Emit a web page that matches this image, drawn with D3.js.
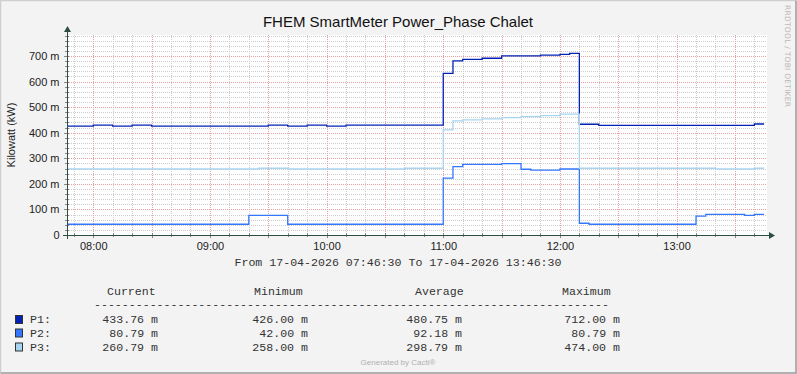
<!DOCTYPE html>
<html>
<head>
<meta charset="utf-8">
<script src="https://cdn.jsdelivr.net/npm/d3@7"></script>
<style>
  body { margin: 0; background: #f3f3f3; }
  svg { display: block; }
  .tick text { font-family: "Liberation Sans", Arial, sans-serif; font-size: 11px; fill: #222; }
  .mono { font-family: "Liberation Mono", "DejaVu Sans Mono", monospace; font-size: 11.6px; fill: #333; }
</style>
</head>
<body>
<div id="chart"></div>
<script>
// ---- data (values in milli-kW, step changes at these times) ----
const p1Times  = ["07:46:30","08:00","08:10","08:20","08:30","09:30","09:40","09:50","10:00","10:10","11:00","11:05","11:10","11:20","11:30","11:50","12:00","12:05","12:10","12:20","13:40","13:45"];
const p1Values = [426, 430, 426, 430, 426, 430, 426, 430, 426, 430, 632, 681, 687, 691, 700, 703, 706, 710, 433, 429, 434, 434];

const p2Times  = ["07:46:30","09:20","09:40","11:00","11:05","11:10","11:30","11:40","11:45","12:00","12:10","12:15","13:10","13:15","13:35","13:40","13:45"];
const p2Values = [42, 77, 42, 222, 267, 276, 279, 257, 254, 258, 46, 42, 74, 81, 77, 81, 81];

const p3Times  = ["07:46:30","09:25","09:40","10:40","11:00","11:05","11:10","11:20","11:30","11:40","11:50","12:00","12:10","13:20","13:40","13:45"];
const p3Values = [258, 261, 258, 261, 411, 446, 450, 454, 459, 463, 467, 473, 261, 258, 261, 261];

const seriesNames  = ["P1:", "P2:", "P3:"];
const seriesColors = ["#0022b4", "#3377ff", "#a8d4f0"];
const legendHeads  = ["Current", "Minimum", "Average", "Maximum"];
const legendRows = [
    ["433.76 m", "426.00 m", "480.75 m", "712.00 m"],
    ["80.79 m",  "42.00 m",  "92.18 m",  "80.79 m"],
    ["260.79 m", "258.00 m", "298.79 m", "474.00 m"]
];
const yTicks = [0, 100, 200, 300, 400, 500, 600, 700];
const startTime = "07:46:30", endTime = "13:46:30";

// ---- helpers ----
function toDate(s) {
    const p = s.split(":").map(Number);
    return new Date(2026, 3, 17, p[0], p[1], p[2] || 0);
}

const W = 797, H = 374;
const margin = {left: 67, top: 35};
const plotW = 700, plotH = 200;

const svg = d3.select("#chart").append("svg")
    .attr("width", W)
    .attr("height", H);

// frame
svg.append("rect").attr("x", 0).attr("y", 0).attr("width", W).attr("height", H).attr("fill", "#f3f3f3");
svg.append("path").attr("d", `M0.5,${H - 1} V0.5 H${W - 1}`).attr("fill", "none").attr("stroke", "#cfcfcf").attr("stroke-width", 1.5);
svg.append("path").attr("d", `M0.5,${H - 1} H${W - 1} V0.5`).attr("fill", "none").attr("stroke", "#9a9a9a").attr("stroke-width", 1.5);

// scales
const x = d3.scaleTime()
    .domain([toDate(startTime), toDate(endTime)])
    .range([margin.left, margin.left + plotW]);
const y = d3.scaleLinear()
    .domain([0, 782])
    .range([margin.top + plotH, margin.top]);

// plot background
svg.append("rect")
    .attr("x", margin.left).attr("y", margin.top)
    .attr("width", plotW).attr("height", plotH)
    .attr("fill", "#ffffff");

// grid
const grid = svg.append("g").attr("class", "grid");
const minorX = x.ticks(d3.timeMinute.every(10));
const majorX = x.ticks(d3.timeMinute.every(30));
const minorY = d3.range(20, 782, 20).filter(v => v % 100 !== 0);

grid.selectAll(".minor-x").data(minorX.filter(t => t.getMinutes() % 30 !== 0)).join("line")
    .attr("x1", d => Math.round(x(d)) + 0.5).attr("x2", d => Math.round(x(d)) + 0.5)
    .attr("y1", margin.top).attr("y2", margin.top + plotH)
    .attr("stroke", "#cccccc").attr("stroke-dasharray", "1,1");
grid.selectAll(".minor-y").data(minorY).join("line")
    .attr("x1", margin.left).attr("x2", margin.left + plotW)
    .attr("y1", d => Math.round(y(d)) + 0.5).attr("y2", d => Math.round(y(d)) + 0.5)
    .attr("stroke", "#cccccc").attr("stroke-dasharray", "1,1");
grid.selectAll(".major-x").data(majorX).join("line")
    .attr("x1", d => Math.round(x(d)) + 0.5).attr("x2", d => Math.round(x(d)) + 0.5)
    .attr("y1", margin.top).attr("y2", margin.top + plotH)
    .attr("stroke", "#e8a0a0").attr("stroke-dasharray", "1,1");
grid.selectAll(".major-y").data(yTicks.slice(1)).join("line")
    .attr("x1", margin.left).attr("x2", margin.left + plotW)
    .attr("y1", d => Math.round(y(d)) + 0.5).attr("y2", d => Math.round(y(d)) + 0.5)
    .attr("stroke", "#e8a0a0").attr("stroke-dasharray", "1,1");

// lines
const line = d3.line()
    .curve(d3.curveStepAfter)
    .x(d => x(d.t))
    .y(d => y(d.v));

const series = [
    d3.zip(p1Times, p1Values),
    d3.zip(p2Times, p2Values),
    d3.zip(p3Times, p3Values)
].map(s => s.map(([t, v]) => ({t: toDate(t), v: v})));

svg.append("g").selectAll("path").data(series).join("path")
    .attr("d", line)
    .attr("fill", "none")
    .attr("stroke", (d, i) => seriesColors[i])
    .attr("stroke-width", 1.3);

// axes
const axisColor = "#2c4d43";
const xAxis = svg.append("g")
    .attr("transform", `translate(0,${margin.top + plotH})`)
    .call(d3.axisBottom(x).ticks(d3.timeHour.every(1)).tickFormat(d3.timeFormat("%H:%M")).tickSize(0).tickPadding(7));
xAxis.select(".domain").remove();

const yAxis = svg.append("g")
    .attr("transform", `translate(${margin.left},0)`)
    .call(d3.axisLeft(y).tickValues(yTicks).tickFormat(d => d === 0 ? "0" : d + " m").tickSize(0).tickPadding(7.5));
yAxis.select(".domain").remove();

// tick marks
svg.append("g").selectAll("line").data(minorX).join("line")
    .attr("x1", d => Math.round(x(d)) + 0.5).attr("x2", d => Math.round(x(d)) + 0.5)
    .attr("y1", margin.top + plotH - 2)
    .attr("y2", d => margin.top + plotH + (d.getMinutes() % 30 === 0 ? 3 : 2))
    .attr("stroke", "#888");
svg.append("g").selectAll("line").data(yTicks.concat(minorY)).join("line")
    .attr("x1", d => margin.left - (d % 100 === 0 ? 3 : 2)).attr("x2", margin.left + 2)
    .attr("y1", d => Math.round(y(d)) + 0.5).attr("y2", d => Math.round(y(d)) + 0.5)
    .attr("stroke", "#888");

svg.append("line")
    .attr("x1", margin.left - 4).attr("x2", margin.left + plotW + 2)
    .attr("y1", margin.top + plotH + 0.5).attr("y2", margin.top + plotH + 0.5)
    .attr("stroke", axisColor);
svg.append("line")
    .attr("x1", margin.left + 0.5).attr("x2", margin.left + 0.5)
    .attr("y1", margin.top + plotH + 4).attr("y2", margin.top - 3)
    .attr("stroke", axisColor);
svg.append("path")
    .attr("d", `M${margin.left + plotW + 2},${margin.top + plotH - 3} L${margin.left + plotW + 8},${margin.top + plotH + 0.5} L${margin.left + plotW + 2},${margin.top + plotH + 4} Z`)
    .attr("fill", axisColor);
svg.append("path")
    .attr("d", `M${margin.left - 3},${margin.top - 3} L${margin.left + 0.5},${margin.top - 9} L${margin.left + 4},${margin.top - 3} Z`)
    .attr("fill", axisColor);

// title + labels
svg.append("text")
    .attr("x", 398).attr("y", 27)
    .attr("text-anchor", "middle")
    .style("font-family", "Liberation Sans, Arial, sans-serif")
    .style("font-size", "15px")
    .attr("fill", "#111")
    .text("FHEM SmartMeter Power_Phase Chalet");

svg.append("text")
    .attr("transform", `translate(15,${margin.top + plotH / 2}) rotate(-90)`)
    .attr("text-anchor", "middle")
    .style("font-family", "Liberation Sans, Arial, sans-serif")
    .style("font-size", "11px")
    .attr("fill", "#222")
    .text("Kilowatt (kW)");

svg.append("text")
    .attr("transform", "translate(784.5,5) rotate(90)")
    .attr("textLength", 102)
    .attr("lengthAdjust", "spacing")
    .style("font-family", "DejaVu Sans, sans-serif")
    .style("font-size", "7.5px")
    .attr("fill", "#b8b8b8")
    .text("RRDTOOL / TOBI OETIKER");

svg.append("text")
    .attr("class", "mono")
    .attr("x", 398).attr("y", 266)
    .attr("text-anchor", "middle")
    .text(`From 17-04-2026 ${startTime} To 17-04-2026 ${endTime}`);

// legend
const headX = [107, 254, 415, 562];
const colEnd = [158, 308, 462, 620];
const rowY = [323, 336.5, 350.5];

svg.append("g").selectAll("text").data(legendHeads).join("text")
    .attr("class", "mono")
    .attr("x", (d, i) => headX[i]).attr("y", 294.5)
    .text(d => d);

svg.append("text")
    .attr("class", "mono")
    .attr("x", 94).attr("y", 307.5)
    .text("-".repeat(74));

const rows = svg.append("g").selectAll("g").data(legendRows).join("g");
rows.append("rect")
    .attr("x", 15.5).attr("y", (d, i) => rowY[i] - 7.5)
    .attr("width", 7).attr("height", 8)
    .attr("fill", (d, i) => seriesColors[i])
    .attr("stroke", "#333");
rows.append("text")
    .attr("class", "mono")
    .attr("x", 30).attr("y", (d, i) => rowY[i])
    .text((d, i) => seriesNames[i]);
rows.each(function(row, i) {
    d3.select(this).selectAll(".val").data(row).join("text")
        .attr("class", "mono val")
        .attr("x", (d, j) => colEnd[j]).attr("y", rowY[i])
        .attr("text-anchor", "end")
        .text(d => d);
});

svg.append("text")
    .attr("x", 398).attr("y", 365)
    .attr("text-anchor", "middle")
    .style("font-family", "Liberation Sans, Arial, sans-serif")
    .style("font-size", "8px")
    .attr("fill", "#b0b0b0")
    .text("Generated by Cacti®");
</script>
</body>
</html>
